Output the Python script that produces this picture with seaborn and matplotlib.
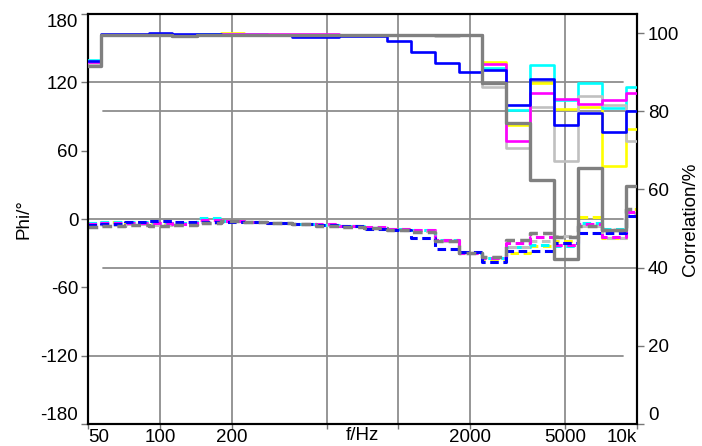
import numpy as np
import pandas as pd
import matplotlib
matplotlib.use("Agg")
import matplotlib.pyplot as plt
import seaborn as sns

# 1/3-octave band centre frequencies (Hz)
bands = [50, 63, 80, 100, 125, 160, 200, 250, 315, 400, 500, 630, 800,
         1000, 1250, 1600, 2000, 2500, 3150, 4000, 5000, 6300, 8000, 10000]

# Correlation / % (solid lines, right axis)
corr_blue    = [92.8, 99.8, 99.8, 100.0, 99.9, 99.7, 99.6, 99.4, 99.4, 99.1, 99.1, 99.2, 99.3,
                98.1, 95.1, 92.3, 90.0, 90.7, 81.6, 88.3, 76.6, 79.5, 74.8, 80.2]
corr_magenta = [92.6, 99.5, 99.6, 99.6, 99.5, 99.6, 99.7, 99.7, 99.8, 99.8, 99.7, 99.6, 99.6,
                99.6, 99.4, 99.4, 99.5, 92.1, 72.5, 84.6, 83.2, 81.8, 82.9, 84.8]
corr_cyan    = [93.1, 99.5, 99.6, 99.6, 99.5, 99.7, 99.9, 99.7, 99.6, 99.6, 99.6, 99.6, 99.5,
                99.6, 99.6, 99.5, 99.5, 91.0, 80.4, 91.9, 82.8, 87.2, 80.9, 86.2]
corr_yellow  = [92.9, 99.5, 99.6, 99.6, 99.5, 99.8, 100.0, 99.8, 99.6, 99.6, 99.6, 99.5, 99.5,
                99.6, 99.5, 99.5, 99.5, 92.6, 76.5, 87.2, 80.5, 81.1, 66.0, 75.5]
corr_silver  = [92.3, 99.4, 99.5, 99.5, 99.4, 99.6, 99.6, 99.6, 99.5, 99.5, 99.5, 99.4, 99.4,
                99.5, 99.4, 99.3, 99.4, 86.2, 70.6, 81.0, 67.2, 84.0, 81.5, 72.5]
corr_gray    = [91.7, 99.5, 99.5, 99.5, 99.3, 99.5, 99.6, 99.6, 99.5, 99.5, 99.5, 99.4, 99.4,
                99.6, 99.6, 99.6, 99.6, 87.2, 77.1, 62.4, 42.3, 65.5, 49.7, 60.8]

# Phase / degrees (dashed lines, left axis)
phase_blue    = [-5.3, -4.1, -2.9, -1.8, -3.0, -2.9, -2.5, -3.0, -3.5, -4.4, -5.2, -6.2, -8.8,
                 -9.5, -17.0, -26.6, -28.7, -37.5, -27.8, -27.8, -21.4, -12.6, -12.6, 2.5]
phase_magenta = [-4.4, -3.5, -3.5, -3.8, -4.7, -0.9, -2.0, -2.6, -3.3, -4.2, -4.8, -6.0, -7.3,
                 -8.8, -9.7, -18.0, -29.5, -34.0, -21.4, -16.0, -22.5, -4.5, -15.5, 6.5]
phase_cyan    = [-3.2, -2.3, -3.0, -3.5, -3.2, 0.6, -1.8, -2.5, -3.3, -4.3, -5.2, -6.5, -7.5,
                 -9.0, -10.0, -18.5, -29.8, -34.5, -25.0, -22.5, -23.7, -3.5, -9.0, 7.5]
phase_yellow  = [-4.0, -3.0, -3.5, -3.5, -3.5, -1.0, -1.8, -2.2, -3.3, -4.4, -5.5, -6.5, -7.5,
                 -9.2, -10.2, -18.5, -29.6, -35.5, -30.0, -23.5, -19.0, 1.5, -17.0, 8.5]
phase_silver  = [-6.0, -5.0, -4.8, -5.0, -4.6, -3.5, -2.0, -2.6, -3.6, -4.4, -5.6, -6.5, -7.6,
                 -9.6, -10.8, -19.0, -30.0, -33.0, -24.3, -19.6, -14.6, -6.5, -16.5, 5.0]
phase_gray    = [-6.7, -5.9, -5.3, -5.9, -5.5, -3.8, -1.8, -2.6, -3.5, -4.4, -5.9, -6.7, -7.6,
                 -9.7, -11.0, -19.3, -30.0, -33.6, -18.4, -12.6, -16.0, -6.0, -10.0, 9.0]

x_ticks = [50, 100, 200, 500, 1000, 2000, 5000, 10000]
x_ticklabels = ["50", "100", "200", "", "", "2000", "5000", "10k"]
phi_ticks = [-180, -120, -60, 0, 60, 120, 180]
corr_ticks = [0, 20, 40, 60, 80, 100]

series_names = ["yellow", "cyan", "silver", "magenta", "blue", "gray"]
colors = {"yellow": "#ffff00", "cyan": "#00ffff", "silver": "#c0c0c0",
          "magenta": "#ff00ff", "blue": "#0000ff", "gray": "#808080"}
corr = {"yellow": corr_yellow, "cyan": corr_cyan, "silver": corr_silver,
        "magenta": corr_magenta, "blue": corr_blue, "gray": corr_gray}
phase = {"yellow": phase_yellow, "cyan": phase_cyan, "silver": phase_silver,
         "magenta": phase_magenta, "blue": phase_blue, "gray": phase_gray}

df = pd.concat([pd.DataFrame({"f": bands, "corr": corr[s], "phi": phase[s], "series": s})
                for s in series_names], ignore_index=True)

sns.set_theme(style="white")
plt.rcParams["font.family"] = ["Liberation Sans", "DejaVu Sans"]

W, H = 702, 446
fig = plt.figure(figsize=(W / 100, H / 100), dpi=100)
ax = fig.add_axes([88 / W, (H - 424) / H, (637 - 88) / W, (424 - 14) / H])
ax2 = ax.twinx()

ax.set_xscale("log")
ax.set_xlim(50, 10000)
ax.set_ylim(-180, 180)
ax2.set_ylim(0, 104.9)

grid_c = "#8e8e8e"
for xv in [100, 200, 500, 1000, 2000, 5000]:
    ax.axvline(xv, color=grid_c, lw=1.3, zorder=0.5)
for yv in [-120, 0, 120]:
    ax.axhline(yv, xmin=0, xmax=(623 - 88) / 549, color=grid_c, lw=1.3, zorder=0.5)
for yv in [40, 80]:
    ax2.axhline(yv, xmin=(103 - 88) / 549, xmax=1, color=grid_c, lw=1.3, zorder=0.5)

for s in series_names:
    d = df[df["series"] == s]
    lw = 2.5 if s == "gray" else 2.2
    sns.lineplot(data=d, x="f", y="phi", ax=ax, color=colors[s], lw=lw,
                 linestyle=(0, (2.8, 1.5)), drawstyle="steps-mid", legend=False,
                 zorder=2)
for s in series_names:
    d = df[df["series"] == s]
    lw = 2.4 if s == "gray" else 1.9
    sns.lineplot(data=d, x="f", y="corr", ax=ax2, color=colors[s], lw=lw,
                 drawstyle="steps-mid", legend=False, zorder=3)

ax.xaxis.set_minor_locator(matplotlib.ticker.NullLocator())
ax.set_xticks(x_ticks)
ax.set_xticklabels(x_ticklabels)
ax.set_yticks(phi_ticks)
ax.set_yticklabels([str(v) for v in phi_ticks])
ax2.set_yticks(corr_ticks)
ax2.set_yticklabels([str(v) for v in corr_ticks])

fs = 13.5
ax.tick_params(axis="x", bottom=True, direction="out", length=3.5, width=1,
               color="#777777", labelsize=fs, pad=0, labelcolor="black")
ax.tick_params(axis="y", left=True, direction="out", length=5, width=1,
               color="#777777", labelsize=fs, pad=2, labelcolor="black")
ax2.tick_params(axis="y", right=True, direction="out", length=5, width=1,
                color="#777777", labelsize=fs, pad=3, labelcolor="black")

# edge labels pulled inside as in the original
xl = ax.get_xticklabels()
xl[0].set_ha("left")
xl[-1].set_ha("right")
yl = ax.get_yticklabels()
yl[0].set_va("bottom")
yl[-1].set_va("top")
y2l = ax2.get_yticklabels()
y2l[0].set_va("bottom")

ax.set_xlabel("f/Hz", fontsize=fs, color="black")
ax.xaxis.set_label_coords(0.5, -0.008)
ax.set_ylabel("Phi/°", fontsize=fs, color="black", labelpad=6)
ax2.set_ylabel("Correlation/%", fontsize=fs, color="black", labelpad=2)

for a in (ax, ax2):
    for sp in a.spines.values():
        sp.set_color("black")
        sp.set_linewidth(1.5)

fig.savefig("out.png", dpi=100, facecolor="white")
